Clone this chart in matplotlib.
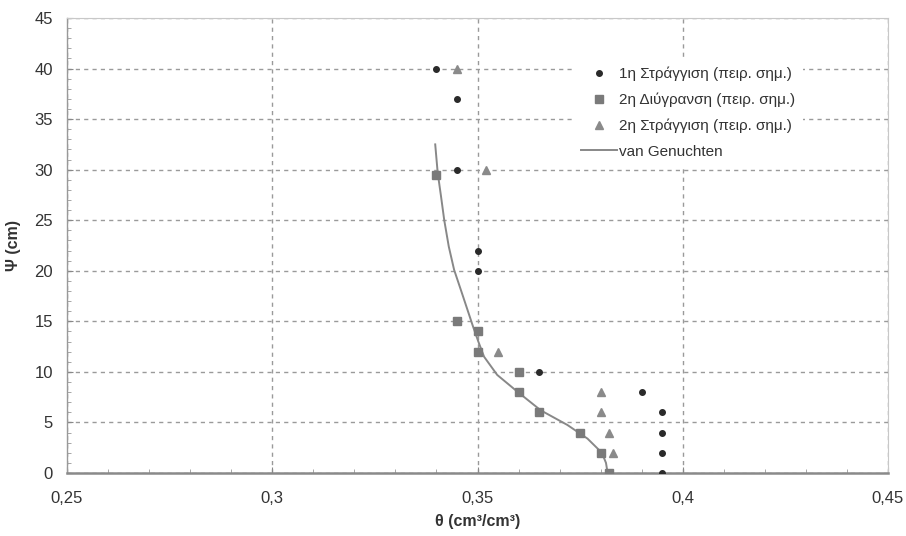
import matplotlib
matplotlib.use("Agg")
import matplotlib.pyplot as plt
from matplotlib.ticker import MultipleLocator, FuncFormatter

# Data
theta_drain1 = [0.395, 0.395, 0.395, 0.395, 0.390, 0.365, 0.350, 0.350, 0.345, 0.345, 0.340]
psi_drain1 = [0, 2, 4, 6, 8, 10, 20, 22, 30, 37, 40]

theta_wet2 = [0.382, 0.380, 0.375, 0.365, 0.360, 0.360, 0.350, 0.350, 0.345, 0.340]
psi_wet2 = [0, 2, 4, 6, 8, 10, 12, 14, 15, 29.5]

theta_drain2 = [0.383, 0.382, 0.380, 0.380, 0.355, 0.352, 0.345]
psi_drain2 = [2, 4, 6, 8, 12, 30, 40]

theta_vg = [0.3817, 0.3813, 0.3803, 0.3768, 0.3719, 0.3654, 0.3597, 0.3548, 0.3516,
            0.3502, 0.3489, 0.3462, 0.3443, 0.3430, 0.3419, 0.3411, 0.3403, 0.3397]
psi_vg = [0, 1.0, 2.0, 3.4, 4.75, 6.2, 8.05, 9.7, 11.5,
          13.0, 14.5, 17.8, 20.1, 22.4, 25.0, 27.4, 29.7, 32.5]

labels = ["1η Στράγγιση (πειρ. σημ.)", "2η Διύγρανση (πειρ. σημ.)",
          "2η Στράγγιση (πειρ. σημ.)", "van Genuchten"]

plt.rcParams['font.family'] = ['Liberation Sans', 'DejaVu Sans']

fig = plt.figure(figsize=(9.06, 5.36), dpi=100)
ax = fig.add_axes([67/906, 63/536, 821/906, 455/536])

ax.plot(theta_drain1, psi_drain1, linestyle='none', marker='o', markersize=4,
        color='#2a2a2a', label=labels[0], zorder=4)
ax.plot(theta_wet2, psi_wet2, linestyle='none', marker='s', markersize=5.5,
        color='#7a7a7a', label=labels[1], zorder=4)
ax.plot(theta_drain2, psi_drain2, linestyle='none', marker='^', markersize=6,
        color='#8a8a8a', label=labels[2], zorder=4)
ax.plot(theta_vg, psi_vg, color='#888888', linewidth=1.4, label=labels[3], zorder=3)

ax.set_xlim(0.25, 0.45)
ax.set_ylim(0, 45)
ax.xaxis.set_major_locator(MultipleLocator(0.05))
ax.xaxis.set_minor_locator(MultipleLocator(0.01))
ax.yaxis.set_major_locator(MultipleLocator(5))
ax.yaxis.set_minor_locator(MultipleLocator(1))

def fmt_x(v, pos):
    s = ('%.2f' % v).rstrip('0').rstrip('.')
    return s.replace('.', ',')
ax.xaxis.set_major_formatter(FuncFormatter(fmt_x))

ax.grid(True, which='major', linestyle=(0, (3, 3)), color='#9a9a9a', linewidth=1.0)
ax.tick_params(axis='both', which='major', direction='in', length=4, color='#888888',
               labelsize=12, labelcolor='#333333')
ax.tick_params(axis='both', which='minor', direction='in', length=3, color='#999999')
ax.tick_params(axis='x', which='major', pad=13)
ax.tick_params(axis='y', which='major', pad=10)

ax.spines['bottom'].set_color('#8a8a8a')
ax.spines['bottom'].set_linewidth(1.8)
ax.spines['left'].set_color('#999999')
ax.spines['left'].set_linewidth(1.0)
ax.spines['top'].set_color('#c8c8c8')
ax.spines['right'].set_color('#c8c8c8')

ax.set_xlabel('θ (cm³/cm³)', fontsize=11.5, fontweight='bold', color='#333333', labelpad=6)
ax.set_ylabel('Ψ (cm)', fontsize=11.5, fontweight='bold', color='#333333', labelpad=10)

leg = ax.legend(loc='upper left', bbox_to_anchor=(0.608, 0.926), frameon=True,
                fancybox=False, framealpha=1, edgecolor='none', facecolor='white',
                fontsize=11, handlelength=2.3, handletextpad=0.15, labelspacing=0.75,
                borderpad=0.5)
for t in leg.get_texts():
    t.set_color('#333333')

fig.savefig('out.png', dpi=100)
